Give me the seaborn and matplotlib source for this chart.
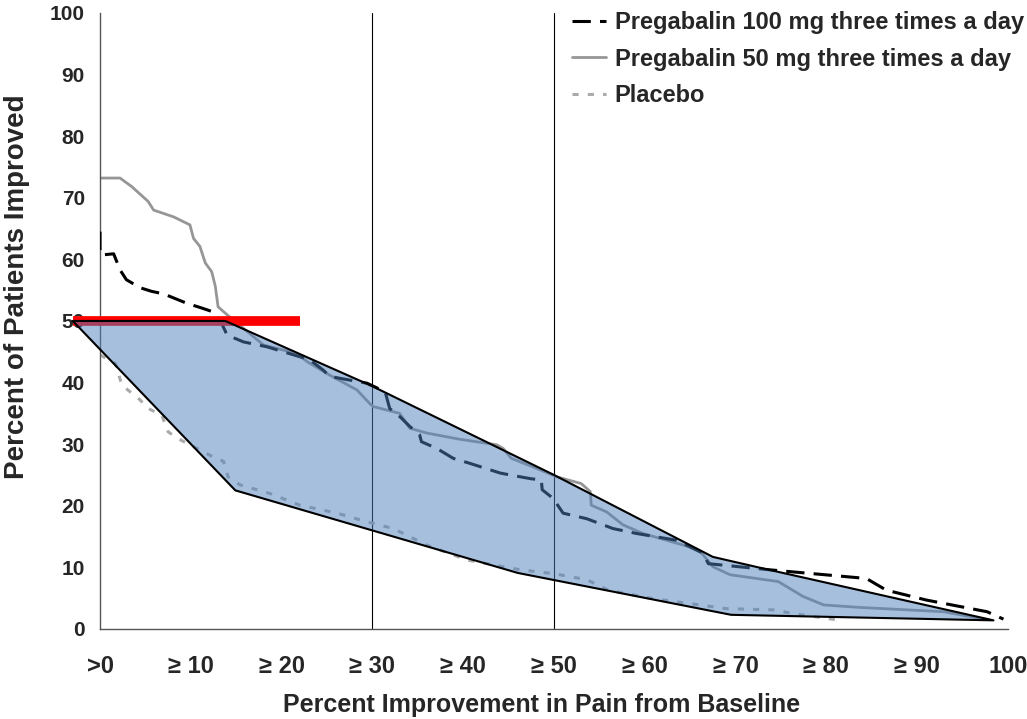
import numpy as np
import pandas as pd
import seaborn as sns
import matplotlib.pyplot as plt

# ------------------------ Data ------------------------
x_100mg = [0, 0, 0.1, 1.5, 2.2, 2.9, 4.4, 5.7, 7.0, 9.5, 11.2, 12.4, 13.2, 14.0, 15.8, 18.4,
           23.1, 24.6, 25.3, 27.5, 29.4, 31.4, 31.9, 33.0, 34.1, 35.2, 35.4, 37.1, 38.9, 40.7,
           44.1, 47.4, 48.6, 48.7, 49.9, 51.0, 53.6, 56.5, 59.1, 63.5, 65.0, 66.4, 67.0, 73.8,
           84.4, 86.6, 91.0, 97.7, 99.5]
y_100mg = [64.5, 61.8, 60.7, 60.9, 58.3, 56.7, 55.4, 54.8, 54.4, 52.9, 52.1, 51.5, 50.2, 47.7,
           46.6, 45.8, 43.7, 42.0, 41.0, 40.4, 39.9, 38.5, 35.8, 34.5, 32.9, 31.5, 30.4, 29.3,
           27.7, 26.9, 25.3, 24.4, 24.2, 22.6, 21.2, 18.8, 17.9, 16.3, 15.5, 14.4, 13.3, 12.3,
           10.6, 9.6, 8.2, 6.3, 4.7, 2.8, 1.6]

x_50mg = [0, 2.2, 3.5, 5.3, 5.9, 8.1, 9.9, 10.3, 11.0, 11.6, 12.3, 12.7, 13.0, 14.0, 18.0,
          21.7, 22.8, 25.3, 28.3, 29.7, 30.1, 33.0, 34.1, 36.0, 39.6, 43.7, 44.4, 45.3, 47.7,
          50.3, 53.0, 54.0, 54.1, 55.8, 57.6, 59.8, 65.0, 66.1, 67.5, 69.4, 74.7, 77.4, 79.7,
          83.7, 92.9, 97.8]
y_50mg = [73.2, 73.2, 71.8, 69.4, 68.0, 66.9, 65.6, 63.4, 62.1, 59.4, 58.0, 55.6, 52.3, 51.0,
          46.1, 44.7, 43.4, 41.2, 38.8, 36.6, 36.1, 35.0, 32.6, 31.8, 30.8, 29.9, 29.3, 27.7,
          26.3, 24.7, 23.6, 22.3, 20.1, 19.0, 16.9, 15.5, 13.3, 12.6, 10.1, 8.8, 7.7, 5.3, 3.9,
          3.5, 2.8, 1.5]

x_placebo = [0, 1.7, 2.4, 4.4, 5.3, 6.8, 7.5, 8.6, 12.1, 13.6, 14.1, 15.4, 18.7, 22.0, 26.1,
             29.4, 32.3, 36.0, 40.4, 46.3, 49.9, 53.6, 56.0, 60.6, 69.0, 74.2, 76.3, 81.1]
y_placebo = [44.5, 43.1, 39.6, 37.2, 35.8, 34.7, 32.0, 30.9, 28.2, 27.2, 24.7, 23.4, 22.0, 20.1,
             18.8, 17.4, 16.3, 13.6, 11.2, 9.6, 9.0, 8.0, 6.3, 5.0, 3.3, 3.1, 2.5, 1.5]

# shaded band between the curves
hull_x = [-3, 13.8, 30, 50, 67.5, 73.4, 98.4, 69.5, 46, 14.9, -3]
hull_y = [50, 50, 39.4, 25, 11.7, 9.7, 1.4, 2.3, 9.1, 22.5, 50]

tick_vals = list(range(0, 101, 10))
tick_labels = ['>0', '≥ 10', '≥ 20', '≥ 30', '≥ 40', '≥ 50', '≥ 60', '≥ 70', '≥ 80', '≥ 90', '100']
ref_lines = [30, 50]
target_y = 50
target_x = [-3, 22]

# ------------------------ Styling Setup ------------------------
sns.set_theme(style='white')
plt.rcParams['font.family'] = ['Liberation Sans', 'DejaVu Sans']

fig = plt.figure(figsize=(10.27, 7.19), dpi=100)
ax = fig.add_axes([0.0974, 0.1252, 0.8841, 0.8568])

for xv in ref_lines:
    ax.axvline(xv, color='black', lw=0.8, zorder=1)

sns.lineplot(x=x_50mg, y=y_50mg, ax=ax, estimator=None, sort=False, color='#969696',
             lw=2, label='Pregabalin 50 mg three times a day', zorder=2)
sns.lineplot(x=x_placebo, y=y_placebo, ax=ax, estimator=None, sort=False, color='#aaaaaa',
             lw=2.2, linestyle=(0, (2, 3)), label='Placebo', zorder=2)
sns.lineplot(x=x_100mg, y=y_100mg, ax=ax, estimator=None, sort=False, color='black',
             lw=2.2, linestyle=(0, (6, 3)), label='Pregabalin 100 mg three times a day', zorder=3)

# red target line, then the translucent band on top
ax.plot(target_x, [target_y, target_y], color='red', lw=7, solid_capstyle='butt',
        clip_on=False, zorder=4)
ax.fill(hull_x, hull_y, facecolor='#4f81bd', alpha=0.5, edgecolor='none', clip_on=False, zorder=5)
ax.plot(hull_x, hull_y, color='black', lw=1.5, clip_on=False, zorder=6)

ax.set_xlim(0, 100)
ax.set_ylim(0, 100)
ax.set_xticks(tick_vals)
ax.set_xticklabels(tick_labels, fontweight='bold', fontsize=17)
ax.set_yticks(tick_vals)
ax.set_yticklabels([str(v) for v in tick_vals], fontweight='bold', fontsize=15)
ax.tick_params(axis='x', direction='out', length=6, width=1, color='#555555', pad=13)
ax.tick_params(axis='y', direction='out', length=6, width=1, color='#555555', pad=5)

for side in ['top', 'right']:
    ax.spines[side].set_visible(False)
for side in ['left', 'bottom']:
    ax.spines[side].set_color('#555555')
    ax.spines[side].set_linewidth(1)

ax.set_xlabel('Percent Improvement in Pain from Baseline', fontweight='bold', fontsize=18)
ax.set_ylabel('Percent of Patients Improved', fontweight='bold', fontsize=20)
ax.xaxis.set_label_coords(0.486, -0.104)
ax.yaxis.set_label_coords(-0.077, 0.555)

handles, labels = ax.get_legend_handles_labels()
order = [2, 0, 1]
ax.legend([handles[i] for i in order], [labels[i] for i in order], loc='upper right',
          frameon=False, prop={'weight': 'bold', 'size': 17}, handlelength=1.45,
          handletextpad=0.35, borderaxespad=0, labelspacing=0.58,
          bbox_to_anchor=(1.006, 0.998), bbox_transform=fig.transFigure)

fig.savefig('out.png', dpi=100)
